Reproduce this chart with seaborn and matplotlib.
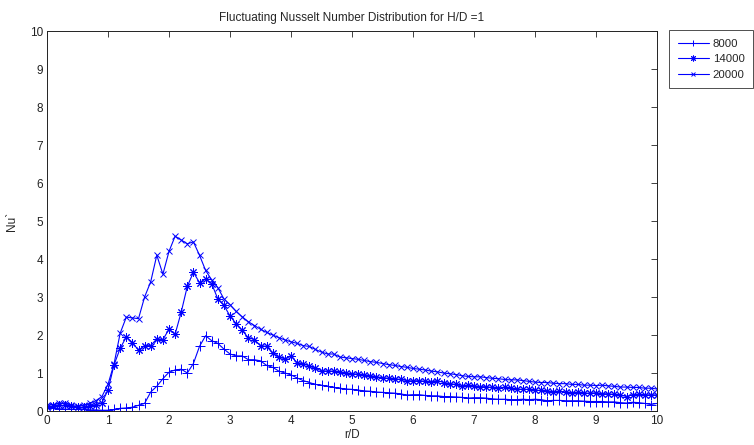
import numpy as np
import pandas as pd
import matplotlib
matplotlib.use("Agg")
import matplotlib.pyplot as plt
import seaborn as sns
from matplotlib.lines import Line2D

r_over_d = [round(i * 0.1, 1) for i in range(101)]

nu_8000 = [0.08, 0.07, 0.06, 0.05, 0.04, 0.04, 0.04, 0.03, 0.03, 0.02,
           0.02, 0.04, 0.07, 0.08, 0.10, 0.15, 0.20, 0.50, 0.65, 0.85,
           1.02, 1.08, 1.10, 1.00, 1.25, 1.70, 1.98, 1.85, 1.78, 1.63,
           1.50, 1.45, 1.45, 1.35, 1.35, 1.32, 1.20, 1.15, 1.05, 1.00,
           0.95, 0.87, 0.80, 0.75, 0.70, 0.68, 0.65, 0.62, 0.60, 0.58,
           0.57, 0.55, 0.53, 0.52, 0.50, 0.49, 0.48, 0.47, 0.45, 0.42,
           0.43, 0.43, 0.41, 0.40, 0.40, 0.38, 0.38, 0.37, 0.36, 0.34,
           0.35, 0.35, 0.34, 0.32, 0.31, 0.31, 0.30, 0.30, 0.31, 0.30,
           0.31, 0.30, 0.27, 0.28, 0.28, 0.27, 0.27, 0.27, 0.26, 0.25,
           0.25, 0.25, 0.24, 0.24, 0.22, 0.21, 0.23, 0.22, 0.20, 0.17,
           0.20]

nu_14000 = [0.10, 0.12, 0.15, 0.15, 0.12, 0.10, 0.10, 0.12, 0.17, 0.22,
            0.55, 1.22, 1.65, 1.95, 1.80, 1.60, 1.72, 1.72, 1.90, 1.88,
            2.15, 2.02, 2.60, 3.28, 3.65, 3.38, 3.48, 3.35, 2.95, 2.78,
            2.50, 2.30, 2.12, 1.93, 1.88, 1.72, 1.70, 1.52, 1.42, 1.37,
            1.45, 1.27, 1.25, 1.18, 1.12, 1.06, 1.05, 1.05, 1.02, 1.00,
            0.98, 0.97, 0.95, 0.93, 0.90, 0.88, 0.86, 0.85, 0.83, 0.80,
            0.79, 0.80, 0.78, 0.77, 0.80, 0.75, 0.72, 0.70, 0.65, 0.68,
            0.66, 0.64, 0.64, 0.62, 0.60, 0.63, 0.60, 0.58, 0.57, 0.57,
            0.55, 0.54, 0.53, 0.50, 0.52, 0.50, 0.48, 0.49, 0.47, 0.47,
            0.48, 0.46, 0.45, 0.44, 0.42, 0.38, 0.43, 0.44, 0.42, 0.43,
            0.42]

nu_20000 = [0.15, 0.17, 0.20, 0.20, 0.15, 0.12, 0.15, 0.20, 0.27, 0.38,
            0.70, 1.25, 2.05, 2.47, 2.45, 2.43, 3.00, 3.40, 4.10, 3.60,
            4.20, 4.60, 4.50, 4.40, 4.45, 4.10, 3.70, 3.45, 3.25, 2.95,
            2.80, 2.62, 2.48, 2.35, 2.25, 2.15, 2.07, 2.00, 1.93, 1.87,
            1.82, 1.78, 1.72, 1.70, 1.62, 1.55, 1.50, 1.50, 1.42, 1.40,
            1.38, 1.36, 1.33, 1.30, 1.28, 1.25, 1.22, 1.20, 1.17, 1.15,
            1.12, 1.10, 1.08, 1.05, 1.03, 1.00, 0.98, 0.96, 0.93, 0.91,
            0.90, 0.90, 0.88, 0.86, 0.85, 0.83, 0.82, 0.82, 0.80, 0.78,
            0.76, 0.75, 0.75, 0.73, 0.72, 0.72, 0.70, 0.70, 0.68, 0.68,
            0.67, 0.68, 0.66, 0.65, 0.63, 0.63, 0.62, 0.62, 0.60, 0.60,
            0.58]

series_names = ["8000", "14000", "20000"]

xticks = list(range(0, 11))
yticks = list(range(0, 11))

title_text = "Fluctuating Nusselt Number Distribution for H/D =1"
x_label = "r/D"
y_label = "Nu`"

# styles
series_markers = ["+", (8, 2, 0), "x"]
marker_sizes = [7, 6, 4.5]

sns.set_style("white")
plt.rcParams["font.family"] = ["Liberation Sans Narrow", "Liberation Sans", "DejaVu Sans"]

frames = []
for name, vals in zip(series_names, [nu_8000, nu_14000, nu_20000]):
    frames.append(pd.DataFrame({"r/D": r_over_d, "Nu": vals, "Re": name}))
df = pd.concat(frames, ignore_index=True)

fig = plt.figure(figsize=(7.54, 4.45), dpi=100)
ax = fig.add_axes([47 / 754, 1 - 411 / 445, 610 / 754, 380 / 445])

blue = "#0000ff"
for name, mk, ms in zip(series_names, series_markers, marker_sizes):
    sub = df[df["Re"] == name]
    sns.lineplot(data=sub, x="r/D", y="Nu", color=blue, marker=mk,
                 linewidth=0.8, markersize=ms, markeredgewidth=0.7,
                 markeredgecolor=blue, markerfacecolor=blue,
                 ax=ax, legend=False)

ax.set_xlim(0, 10)
ax.set_ylim(0, 10)
ax.set_xticks(xticks)
ax.set_yticks(yticks)
ax.tick_params(direction="in", length=4, width=0.6, top=True, right=True,
               labelsize=8.5, pad=3, colors="#222222")
for s in ax.spines.values():
    s.set_linewidth(0.7)
    s.set_color("#222222")
    s.set_visible(True)
ax.set_title(title_text, fontsize=8.5, pad=7)
ax.set_xlabel(x_label, fontsize=8.5, labelpad=1)
ax.set_ylabel(y_label, fontsize=8.5, labelpad=8)

handles = [Line2D([0], [0], color=blue, marker=m, linewidth=0.8,
                  markersize=ms * 0.7, markeredgewidth=0.7)
           for m, ms in zip(series_markers, marker_sizes)]
leg = fig.legend(handles, series_names, loc="upper left",
                 bbox_to_anchor=(669 / 754, 1 - 30 / 445),
                 fontsize=8.2, frameon=True, fancybox=False,
                 handlelength=2.8, handletextpad=0.3, borderpad=0.75,
                 labelspacing=0.5, borderaxespad=0)
leg.get_frame().set_edgecolor("#222222")
leg.get_frame().set_linewidth(0.7)

fig.savefig("out.png", dpi=100)
